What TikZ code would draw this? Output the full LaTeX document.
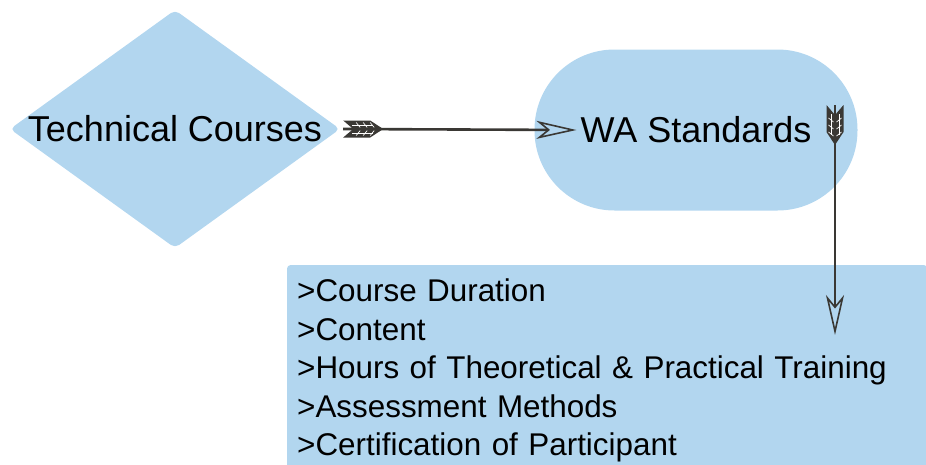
\documentclass[tikz,border=0pt]{standalone}
\usepackage{fontspec}
\setmainfont{Liberation Sans}
\usepackage{tikz}
\usetikzlibrary{shapes.geometric,arrows.meta}
\definecolor{paleblue}{RGB}{178,214,239}
\definecolor{quill}{RGB}{58,56,52}

\begin{document}
\begin{tikzpicture}[x=1pt,y=1pt,
    blob/.style={fill=paleblue,draw=none},
    title/.style={font=\fontsize{36pt}{42pt}\selectfont,inner sep=4pt},
    shaft/.style={draw=quill,line width=2.6pt,-{Stealth[open,length=40pt,width=18pt,inset=11pt,line width=1.6pt]}},
    fletch/.pic={
        \fill[quill] (0,8.5) -- (27,8.5) -- (40,0) -- (27,-8.5) -- (0,-8.5) -- (10,0) -- cycle;
        \draw[white,line width=0.7pt] (9,4) -- (30,4) (9,-4) -- (30,-4);
        \foreach \i in {13,20,27}
            \draw[white,line width=0.7pt] (\i,6.5) -- (\i+4,1.5) (\i,-6.5) -- (\i+4,-1.5);
    }
  ]
            \clip (0,0) rectangle (926,-464);

            \node[blob,diamond,aspect=1.39,minimum width=330pt,minimum height=238pt,inner sep=0pt,rounded corners=5pt]
                (techshape) at (175,-129) {};
            \node[title] (tech) at (techshape) {Technical Courses};

            \node[blob,rectangle,rounded corners=80pt,minimum width=323pt,minimum height=161pt]
                (wabox) at (696,-130) {};
            \node[title] (wa) at (wabox) {WA Standards};

            \node[blob,anchor=north west,rounded corners=3pt,text width=620pt,align=left,
                  inner xsep=10pt,inner ysep=14pt,font=\fontsize{31.4pt}{38.5pt}\selectfont]
                (list) at (287,-265)
                {>Course Duration\\
                 >Content\\
                 >Hours of Theoretical \& Practical Training\\
                 >Assessment Methods\\
                 >Certification of Participant};

            \coordinate (dtail) at (835,-105);
            \coordinate (dhead) at (835,-335);

            % Arrows
            \draw[shaft] ([xshift=3pt]techshape.east) -- (wa.west);
            \pic at ([xshift=3pt]techshape.east) {fletch};
            \draw[shaft] (dtail) -- (dhead);
            \pic[rotate=-90] at (dtail) {fletch};
    \end{tikzpicture}
\end{document}
